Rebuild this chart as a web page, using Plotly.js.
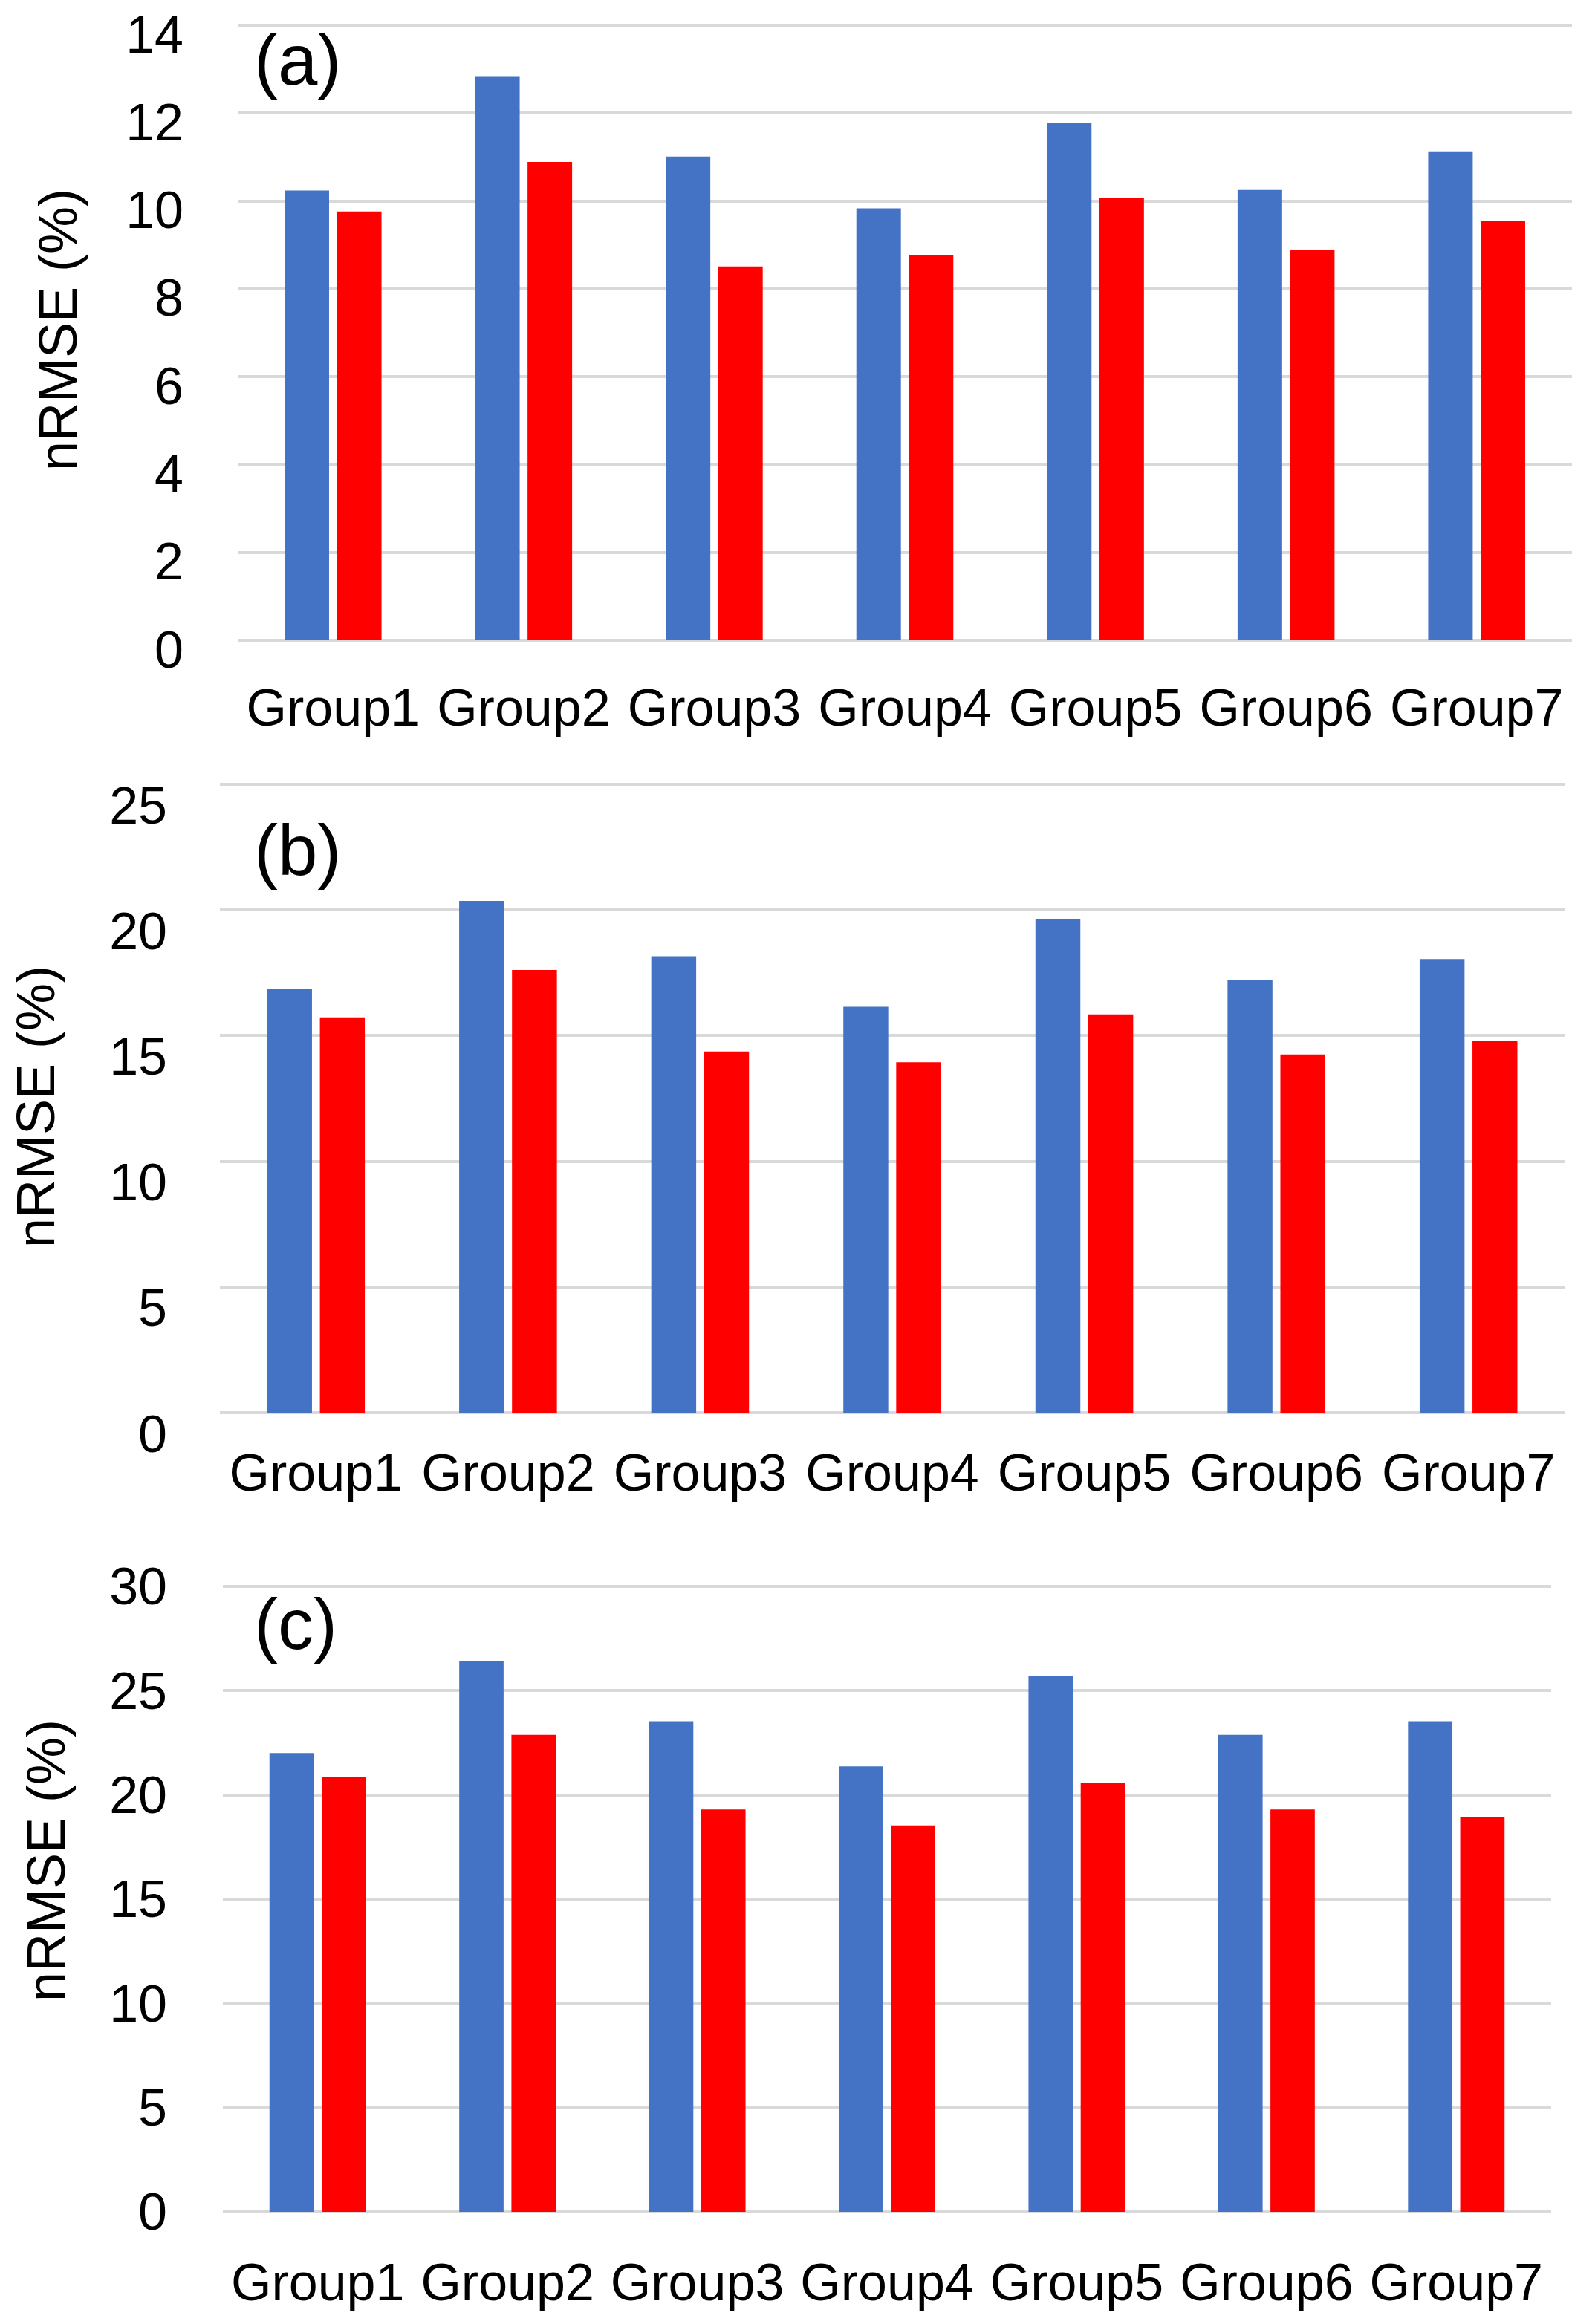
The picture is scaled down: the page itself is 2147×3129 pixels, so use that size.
<!DOCTYPE html>
<html>
<head>
<meta charset="utf-8">
<script src="https://cdn.plot.ly/plotly-3.0.1.min.js"></script>
<style>html,body{margin:0;padding:0;background:#fff;}#chart{width:2147px;height:3129px;}</style>
</head>
<body>
<div id="chart"></div>
<script>
const categories = ['Group1', 'Group2', 'Group3', 'Group4', 'Group5', 'Group6', 'Group7'];
const blueA = [10.24, 12.84, 11.01, 9.83, 11.78, 10.25, 11.13];
const redA  = [9.76, 10.89, 8.51, 8.77, 10.07, 8.89, 9.54];
const blueB = [16.86, 20.36, 18.16, 16.15, 19.63, 17.20, 18.05];
const redB  = [15.73, 17.61, 14.37, 13.94, 15.85, 14.25, 14.78];
const blueC = [22.01, 26.44, 23.53, 21.37, 25.71, 22.88, 23.53];
const redC  = [20.86, 22.88, 19.30, 18.54, 20.59, 19.30, 18.93];
const panelLabels = ['(a)', '(b)', '(c)'];
const yTitle = 'nRMSE (%)';

const BLUE = '#4472C4', RED = '#FF0000', GRID = '#D9D9D9';
const FONT = 'Liberation Sans, Arial, sans-serif';

function bars(y, color, xa, ya) {
  return {type: 'bar', x: categories, y: y, xaxis: xa, yaxis: ya,
          marker: {color: color, line: {width: 0}}, showlegend: false, hoverinfo: 'skip'};
}

const data = [
  bars(blueA, BLUE, 'x', 'y'), bars(redA, RED, 'x', 'y'),
  bars(blueB, BLUE, 'x2', 'y2'), bars(redB, RED, 'x2', 'y2'),
  bars(blueC, BLUE, 'x3', 'y3'), bars(redC, RED, 'x3', 'y3')
];

const W = 2147, H = 3129;
function xd(l, r) { return [l / W, r / W]; }

function xaxis(dom, anchor, tl) {
  return {domain: dom, anchor: anchor, automargin: false, showgrid: false, zeroline: false,
          showline: false, ticks: 'outside', ticklen: tl, tickcolor: 'rgba(0,0,0,0)',
          tickfont: {family: FONT, size: 70, color: '#000'}, fixedrange: true};
}
// topPx: pixel of the max tick, botPx: pixel of zero; small headroom so the top gridline is drawn
function yaxis(topPx, botPx, anchor, max, dt, tl, shift) {
  const ext = max * 0.006;
  const ppu = (botPx - topPx) / max;
  const t = topPx - ext * ppu;
  return {domain: [1 - botPx / H, 1 - t / H], anchor: anchor, automargin: false, range: [0, max + ext],
          tickmode: 'linear', tick0: 0, dtick: dt, ticklabeloverflow: 'allow', ticklabelshift: shift,
          showgrid: true, gridcolor: GRID, gridwidth: 4, zeroline: true, zerolinecolor: GRID, zerolinewidth: 4,
          showline: false, ticks: 'outside', ticklen: tl, tickcolor: 'rgba(0,0,0,0)',
          tickfont: {family: FONT, size: 70, color: '#000'}, fixedrange: true};
}

function panelLabel(txt, yPx) {
  return {text: txt, xref: 'paper', yref: 'paper', x: 340 / W, y: 1 - yPx / H, xanchor: 'left', yanchor: 'middle',
          showarrow: false, font: {family: FONT, size: 96, color: '#000'}};
}
function yTitleAnn(xPx, yPx) {
  return {text: yTitle, xref: 'paper', yref: 'paper', x: xPx / W, y: 1 - yPx / H, xanchor: 'center', yanchor: 'middle',
          textangle: -90, showarrow: false, font: {family: FONT, size: 72, color: '#000'}};
}

const layout = {
  width: W, height: H,
  margin: {l: 0, r: 0, t: 0, b: 0, pad: 0},
  paper_bgcolor: '#fff', plot_bgcolor: '#fff',
  barmode: 'group', bargap: 0.45, bargroupgap: 0.15,
  showlegend: false,
  xaxis: xaxis(xd(320, 2116), 'y', 30),
  yaxis: yaxis(34, 862, 'x', 14, 2, 58, 12),
  xaxis2: xaxis(xd(296, 2106), 'y2', 20),
  yaxis2: yaxis(1056, 1902, 'x2', 25, 5, 56, 28),
  xaxis3: xaxis(xd(300, 2088), 'y3', 34),
  yaxis3: yaxis(2136, 2978, 'x3', 30, 5, 60, 0),
  annotations: [
    panelLabel(panelLabels[0], 80),
    panelLabel(panelLabels[1], 1144),
    panelLabel(panelLabels[2], 2186),
    yTitleAnn(78, 444),
    yTitleAnn(48, 1490),
    yTitleAnn(62, 2505)
  ]
};

Plotly.newPlot('chart', data, layout, {staticPlot: true, displayModeBar: false});
</script>
</body>
</html>
